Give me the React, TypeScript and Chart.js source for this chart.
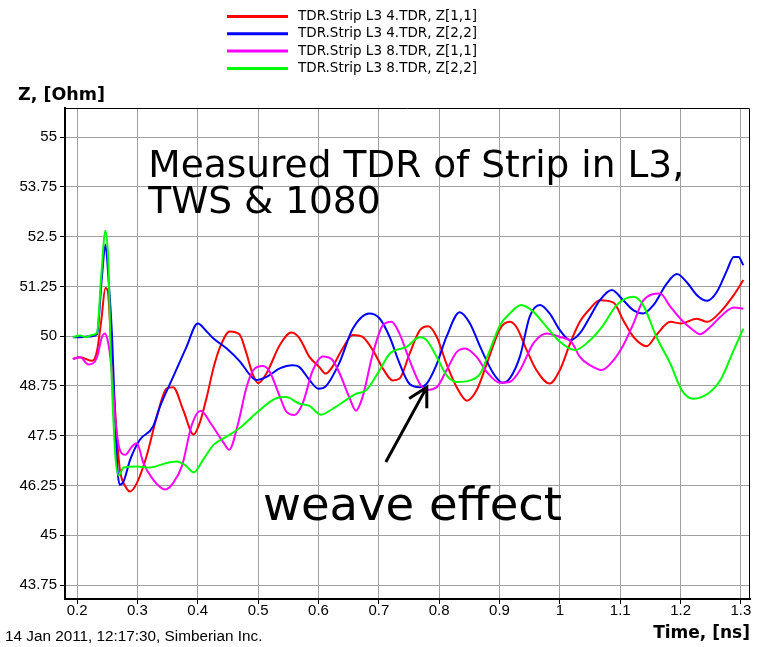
import React, { useEffect, useRef } from 'react';
import { Chart, registerables } from 'chart.js';

Chart.register(...registerables);

// ---------- data ----------
const seriesLabels = [
  'TDR.Strip L3 4.TDR, Z[1,1]',
  'TDR.Strip L3 4.TDR, Z[2,2]',
  'TDR.Strip L3 8.TDR, Z[1,1]',
  'TDR.Strip L3 8.TDR, Z[2,2]',
];
const seriesColors = ['#ff0000', '#0000ff', '#ff00ff', '#00ff00'];

const redTime = [0.193, 0.205, 0.225, 0.233, 0.24, 0.247, 0.251, 0.255, 0.26, 0.266, 0.271, 0.28, 0.288, 0.299, 0.315, 0.332, 0.348, 0.359, 0.376, 0.393, 0.403, 0.415, 0.426, 0.437, 0.453, 0.469, 0.48, 0.491, 0.5, 0.514, 0.536, 0.555, 0.568, 0.585, 0.601, 0.612, 0.623, 0.64, 0.657, 0.673, 0.69, 0.707, 0.723, 0.734, 0.751, 0.768, 0.782, 0.796, 0.812, 0.829, 0.846, 0.862, 0.879, 0.901, 0.917, 0.928, 0.945, 0.961, 0.983, 1.0, 1.017, 1.033, 1.05, 1.066, 1.089, 1.105, 1.122, 1.144, 1.16, 1.183, 1.2, 1.227, 1.244, 1.266, 1.288, 1.304];
const redZ = [49.43, 49.47, 49.38, 49.63, 50.38, 51.21, 51.13, 50.21, 48.8, 47.47, 46.64, 46.23, 46.1, 46.31, 46.98, 47.97, 48.68, 48.72, 48.14, 47.53, 47.81, 48.48, 49.2, 49.73, 50.12, 50.05, 49.6, 49.05, 48.82, 49.07, 49.78, 50.09, 49.96, 49.48, 49.23, 49.06, 49.23, 49.69, 50.03, 49.98, 49.65, 49.18, 48.89, 48.93, 49.56, 50.15, 50.25, 49.98, 49.31, 48.72, 48.38, 48.64, 49.31, 50.19, 50.36, 50.23, 49.65, 49.15, 48.81, 49.15, 49.82, 50.36, 50.69, 50.9, 50.84, 50.4, 49.98, 49.75, 50.03, 50.36, 50.32, 50.44, 50.36, 50.61, 51.03, 51.41];

const blueTime = [0.193, 0.21, 0.225, 0.233, 0.241, 0.247, 0.252, 0.258, 0.263, 0.267, 0.271, 0.277, 0.288, 0.304, 0.326, 0.337, 0.359, 0.381, 0.4, 0.414, 0.426, 0.448, 0.47, 0.489, 0.497, 0.514, 0.536, 0.557, 0.568, 0.585, 0.6, 0.612, 0.634, 0.657, 0.684, 0.701, 0.718, 0.734, 0.751, 0.768, 0.779, 0.796, 0.812, 0.834, 0.851, 0.868, 0.89, 0.905, 0.917, 0.934, 0.95, 0.967, 0.983, 1.0, 1.017, 1.033, 1.05, 1.066, 1.086, 1.105, 1.122, 1.138, 1.155, 1.177, 1.194, 1.21, 1.227, 1.244, 1.26, 1.277, 1.288, 1.296, 1.304];
const blueZ = [49.97, 49.98, 50.0, 50.05, 51.46, 52.3, 51.46, 49.97, 47.97, 46.64, 46.27, 46.35, 46.9, 47.4, 47.73, 48.22, 48.97, 49.72, 50.32, 50.13, 49.94, 49.69, 49.36, 48.98, 48.9, 48.98, 49.19, 49.27, 49.23, 48.9, 48.68, 48.74, 49.31, 50.19, 50.57, 50.45, 49.98, 49.33, 48.8, 48.72, 48.8, 49.3, 49.98, 50.6, 50.32, 49.73, 49.06, 48.83, 48.94, 49.5, 50.49, 50.78, 50.57, 50.15, 49.9, 50.07, 50.49, 50.9, 51.16, 50.9, 50.65, 50.57, 50.78, 51.32, 51.56, 51.36, 51.03, 50.89, 51.11, 51.66, 51.99, 51.99, 51.78];

const magentaTime = [0.193, 0.205, 0.219, 0.233, 0.241, 0.246, 0.252, 0.258, 0.263, 0.271, 0.28, 0.291, 0.299, 0.31, 0.326, 0.346, 0.359, 0.374, 0.39, 0.405, 0.421, 0.443, 0.452, 0.467, 0.481, 0.492, 0.508, 0.519, 0.536, 0.546, 0.56, 0.574, 0.59, 0.607, 0.622, 0.634, 0.651, 0.662, 0.673, 0.69, 0.707, 0.721, 0.734, 0.751, 0.768, 0.779, 0.796, 0.812, 0.829, 0.843, 0.862, 0.879, 0.901, 0.917, 0.934, 0.956, 0.978, 1.0, 1.019, 1.033, 1.05, 1.069, 1.089, 1.105, 1.122, 1.138, 1.166, 1.183, 1.202, 1.221, 1.232, 1.249, 1.266, 1.288, 1.304];
const magentaZ = [49.43, 49.47, 49.29, 49.47, 49.97, 50.07, 49.8, 49.05, 47.97, 47.14, 47.02, 47.23, 47.31, 46.81, 46.4, 46.15, 46.31, 46.75, 47.77, 48.13, 47.82, 47.32, 47.15, 47.82, 48.73, 49.15, 49.25, 49.11, 48.48, 48.12, 48.02, 48.32, 49.12, 49.49, 49.42, 49.1, 48.47, 48.13, 48.47, 49.56, 50.28, 50.36, 50.07, 49.39, 48.8, 48.65, 48.72, 49.14, 49.6, 49.69, 49.48, 49.1, 48.83, 48.85, 49.15, 49.82, 50.07, 49.98, 49.86, 49.48, 49.27, 49.15, 49.4, 49.77, 50.32, 50.89, 51.07, 50.74, 50.4, 50.15, 50.05, 50.23, 50.49, 50.72, 50.69];

const greenTime = [0.193, 0.205, 0.215, 0.225, 0.233, 0.24, 0.247, 0.252, 0.255, 0.263, 0.269, 0.277, 0.299, 0.32, 0.345, 0.365, 0.38, 0.393, 0.409, 0.426, 0.448, 0.47, 0.497, 0.53, 0.546, 0.568, 0.585, 0.604, 0.625, 0.662, 0.679, 0.701, 0.718, 0.746, 0.768, 0.779, 0.796, 0.812, 0.829, 0.851, 0.868, 0.884, 0.901, 0.917, 0.936, 0.956, 0.978, 1.0, 1.025, 1.05, 1.072, 1.094, 1.122, 1.138, 1.16, 1.183, 1.202, 1.221, 1.249, 1.266, 1.288, 1.304];
const greenZ = [49.97, 50.02, 49.97, 50.03, 50.08, 51.5, 52.65, 51.8, 50.0, 47.1, 46.5, 46.7, 46.73, 46.7, 46.8, 46.85, 46.75, 46.58, 46.9, 47.27, 47.48, 47.7, 48.07, 48.44, 48.47, 48.31, 48.25, 48.03, 48.19, 48.55, 48.64, 49.14, 49.56, 49.73, 49.97, 49.9, 49.48, 49.02, 48.85, 48.89, 49.06, 49.65, 50.28, 50.57, 50.78, 50.61, 50.23, 49.86, 49.65, 49.9, 50.28, 50.78, 50.99, 50.78, 49.98, 49.31, 48.64, 48.43, 48.6, 48.9, 49.65, 50.19];

const seriesTimes = [redTime, blueTime, magentaTime, greenTime];
const seriesValues = [redZ, blueZ, magentaZ, greenZ];
const drawOrder = [3, 2, 1, 0];

const xMin = 0.18;
const xMax = 1.315;
const xStep = 0.1;
const yMin = 43.4;
const yMax = 55.73;
const yStep = 1.25;

const yAxisTitle = 'Z, [Ohm]';
const xAxisTitle = 'Time, [ns]';
const footerText = '14 Jan 2011, 12:17:30, Simberian Inc.';
const noteLines = ['Measured TDR of Strip in L3,', 'TWS & 1080'];
const noteAnchor = [0.318, 54.0];
const weaveText = 'weave effect';
const weaveAnchor = [0.508, 45.38];
const arrowTail = [0.7116, 46.84];
const arrowTip = [0.7795, 48.72];

const overlayPlugin = {
  id: 'overlay',
  afterDraw(chart: any) {
    const { ctx, chartArea: ca, scales } = chart;
    const xs = scales.x;
    const ys = scales.y;
    ctx.save();
    // frame (top / right)
    ctx.strokeStyle = '#000';
    ctx.lineWidth = 1;
    ctx.beginPath();
    ctx.moveTo(ca.left, ca.top + 0.5);
    ctx.lineTo(ca.right - 0.5, ca.top + 0.5);
    ctx.lineTo(ca.right - 0.5, ca.bottom);
    ctx.stroke();

    // legend
    ctx.font = '13.5px "DejaVu Sans"';
    ctx.textBaseline = 'middle';
    ctx.textAlign = 'left';
    for (let i = 0; i < seriesLabels.length; i++) {
      const yy = 16.5 + i * 17.3;
      ctx.strokeStyle = seriesColors[i];
      ctx.lineWidth = 3;
      ctx.beginPath();
      ctx.moveTo(227, yy);
      ctx.lineTo(288, yy);
      ctx.stroke();
      ctx.fillStyle = '#000';
      ctx.fillText(seriesLabels[i], 298, yy);
    }

    // y axis title
    ctx.font = 'bold 17.5px "DejaVu Sans"';
    ctx.textBaseline = 'alphabetic';
    ctx.fillStyle = '#000';
    ctx.fillText(yAxisTitle, 18, 100);

    // footer
    ctx.font = '15.3px "Liberation Sans"';
    ctx.fillText(footerText, 5, 641);

    // annotation text
    ctx.font = '37.5px "DejaVu Sans"';
    const nx = xs.getPixelForValue(noteAnchor[0]);
    const ny = ys.getPixelForValue(noteAnchor[1]);
    noteLines.forEach((t, i) => ctx.fillText(t, nx, ny + i * 36));

    ctx.font = '46.5px "DejaVu Sans"';
    ctx.fillText(weaveText, xs.getPixelForValue(weaveAnchor[0]), ys.getPixelForValue(weaveAnchor[1]));

    // arrow
    const tx = xs.getPixelForValue(arrowTail[0]);
    const ty = ys.getPixelForValue(arrowTail[1]);
    const hx = xs.getPixelForValue(arrowTip[0]);
    const hy = ys.getPixelForValue(arrowTip[1]);
    ctx.strokeStyle = '#000';
    ctx.lineWidth = 3;
    ctx.beginPath();
    ctx.moveTo(tx, ty);
    ctx.lineTo(hx, hy);
    const ang = Math.atan2(hy - ty, hx - tx);
    const len = 21;
    const spread = 0.5;
    ctx.moveTo(hx - len * Math.cos(ang - spread), hy - len * Math.sin(ang - spread));
    ctx.lineTo(hx, hy);
    ctx.lineTo(hx - len * Math.cos(ang + spread), hy - len * Math.sin(ang + spread));
    ctx.stroke();
    ctx.restore();
  },
};

const fmt = (v: number) => String(Math.round(v * 100) / 100);

export default function App() {
  const ref = useRef<HTMLCanvasElement | null>(null);
  useEffect(() => {
    if (!ref.current) return;
    const datasets = seriesLabels.map((label, i) => ({
      label,
      data: seriesTimes[i].map((t, k) => ({ x: t, y: seriesValues[i][k] })),
      borderColor: seriesColors[i],
      backgroundColor: seriesColors[i],
      borderWidth: 2,
      pointRadius: 0,
      fill: false,
      cubicInterpolationMode: 'monotone' as const,
      order: drawOrder[i],
    }));
    const chart = new Chart(ref.current, {
      type: 'line',
      data: { datasets },
      plugins: [overlayPlugin],
      options: {
        animation: false,
        responsive: false,
        layout: { padding: { top: 108, right: 11, left: 0, bottom: 0 } },
        plugins: { legend: { display: false }, title: { display: false }, tooltip: { enabled: false } },
        font: { family: '"Liberation Sans"' } as any,
        scales: {
          x: {
            type: 'linear',
            min: xMin,
            max: xMax,
            afterFit: (s: any) => { s.height = 48; },
            border: { display: true, color: '#000', width: 2 },
            grid: { color: '#a0a0a0', lineWidth: 1, tickColor: '#000', tickLength: 5, drawTicks: true },
            ticks: {
              stepSize: xStep,
              includeBounds: false,
              autoSkip: false,
              maxRotation: 0,
              padding: -2,
              color: '#000',
              font: { family: '"Liberation Sans"', size: 15 },
              callback: (v: any) => fmt(Number(v)),
            },
            title: {
              display: true,
              text: xAxisTitle,
              align: 'end',
              color: '#000',
              font: { family: '"DejaVu Sans"', size: 17, weight: 'bold' },
              padding: { top: 0, bottom: 3 },
            },
          },
          y: {
            type: 'linear',
            min: yMin,
            max: yMax,
            afterFit: (s: any) => { s.width = 65; },
            border: { display: true, color: '#000', width: 2 },
            grid: { color: '#a0a0a0', lineWidth: 1, tickColor: '#000', tickLength: 5 },
            ticks: {
              stepSize: yStep,
              includeBounds: false,
              autoSkip: false,
              padding: 3,
              color: '#000',
              font: { family: '"Liberation Sans"', size: 15 },
              callback: (v: any) => fmt(Number(v)),
            },
          },
        },
      },
    });
    return () => chart.destroy();
  }, []);
  return (
    <div style={{ position: 'fixed', left: 0, top: 0, width: 761, height: 647, background: '#fff' }}>
      <canvas ref={ref} width={761} height={647} />
    </div>
  );
}
